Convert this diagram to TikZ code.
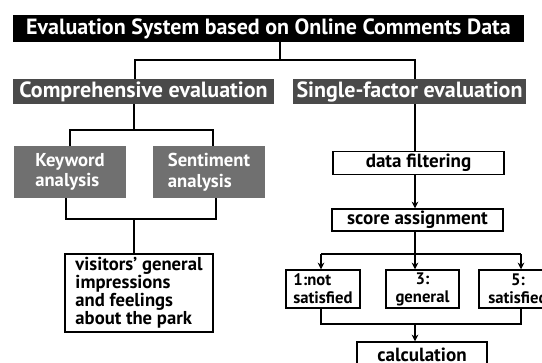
\documentclass[tikz,border=0pt]{standalone}
\usepackage{fontspec}
\setmainfont{PT Sans}
\usetikzlibrary{arrows.meta}
\definecolor{headgray}{RGB}{74,74,74}
\definecolor{boxgray}{RGB}{112,112,112}
\tikzset{
  titlebar/.style={fill=black,text=white,inner sep=0pt,minimum width=383.25pt,minimum height=20.25pt,font=\bfseries\fontsize{16.5}{18}\selectfont},
  headbar/.style={fill=headgray,text=white,inner sep=0pt,minimum height=18.75pt,font=\bfseries\fontsize{16.5}{18}\selectfont},
  graybox/.style={fill=boxgray,text=white,inner sep=0pt,minimum width=84pt,minimum height=39pt,align=left,font=\bfseries\fontsize{14}{15.5}\selectfont},
  plainbox/.style={draw=black,line width=1.1pt,fill=white,inner sep=0pt,font=\bfseries\fontsize{14.3}{15}\selectfont},
  smallbox/.style={plainbox,minimum width=55.5pt,minimum height=28.5pt,font=\bfseries\fontsize{12.5}{13.5}\selectfont},
  link/.style={draw=black,line width=1.1pt},
  arrowlink/.style={link,-{Stealth[length=5pt,width=5pt]}}
}
\begin{document}
\begin{tikzpicture}[x=0.75pt,y=-0.75pt]
  \useasboundingbox (0,0) rectangle (542,363);
  \clip (0,0) rectangle (542,363);

  % top level
  \node[titlebar] (title) at (268.5,28.5) {Evaluation System based on Online Comments Data};
  \node[headbar,minimum width=195.75pt] (comp) at (143.5,91.5) {Comprehensive evaluation};
  \node[headbar,minimum width=174.75pt] (single) at (409.5,91.5) {Single-factor evaluation};

  % left branch
  \node[graybox] (keyword) at (70,172) {Keyword\\analysis};
  \node[graybox] (sentiment) at (209,172) {Sentiment\\analysis};
  \node[plainbox,minimum width=111pt,minimum height=58.5pt,align=left,
        font=\bfseries\fontsize{14}{13.5}\selectfont] (visitors) at (139,293)
        {visitors' general\\impressions\\and feelings\\about the park};

  % right branch
  \node[plainbox,minimum width=128.25pt,minimum height=17.25pt] (filter) at (418.5,163) {data filtering};
  \node[plainbox,minimum width=128.25pt,minimum height=16.5pt] (score) at (417.5,220) {score assignment};
  \node[smallbox,align=left] (notsat) at (323,289) {1:not\\satisfied};
  \node[smallbox,minimum width=54.75pt,align=center] (general) at (422.5,289) {3:\\general};
  \node[smallbox,minimum width=58.5pt,align=center] (sat) at (518,289) {5:\\satisfied};
  \node[plainbox,minimum width=97.5pt,minimum height=19.5pt] (calc) at (422,355) {calculation};

  % junctions
  \coordinate (top) at (280,60);
  \coordinate (lb) at (135,60);
  \coordinate (rb) at (415,60);
  \coordinate (csplit) at (134,130);
  \coordinate (k1) at (70,130);
  \coordinate (s1) at (213,130);
  \coordinate (cmerge) at (134,219);
  \coordinate (k2) at (66,219);
  \coordinate (s2) at (216,219);
  \coordinate (split) at (415,254);
  \coordinate (a1) at (321,254);
  \coordinate (a5) at (521,254);
  \coordinate (merge) at (415,324);
  \coordinate (b1) at (321,324);
  \coordinate (b5) at (521,324);

  % connectors, top
  \draw[link] (top |- title.south) -- (top);
  \draw[link] (lb |- comp.north) -- (lb) -- (rb) -- (rb |- single.north);

  % connectors, comprehensive
  \draw[link] (csplit |- comp.south) -- (csplit);
  \draw[link] (k1 |- keyword.north) -- (k1) -- (s1) -- (s1 |- sentiment.north);
  \draw[link] (k2 |- keyword.south) -- (k2) -- (s2) -- (s2 |- sentiment.south);
  \draw[link] (cmerge) -- (cmerge |- visitors.north);

  % connectors, single-factor
  \draw[link] (rb |- single.south) -- (rb |- filter.north);
  \draw[arrowlink] (rb |- filter.south) -- (rb |- score.north);
  \draw[link] (rb |- score.south) -- (split);
  \draw[link] (a1) -- (a5);
  \draw[arrowlink] (a1) -- (a1 |- notsat.north);
  \draw[arrowlink] (split) -- (split |- general.north);
  \draw[arrowlink] (a5) -- (a5 |- sat.north);
  \draw[link] (b1 |- notsat.south) -- (b1) -- (b5) -- (b5 |- sat.south);
  \draw[arrowlink] (merge) -- (merge |- calc.north);
\end{tikzpicture}
\end{document}
